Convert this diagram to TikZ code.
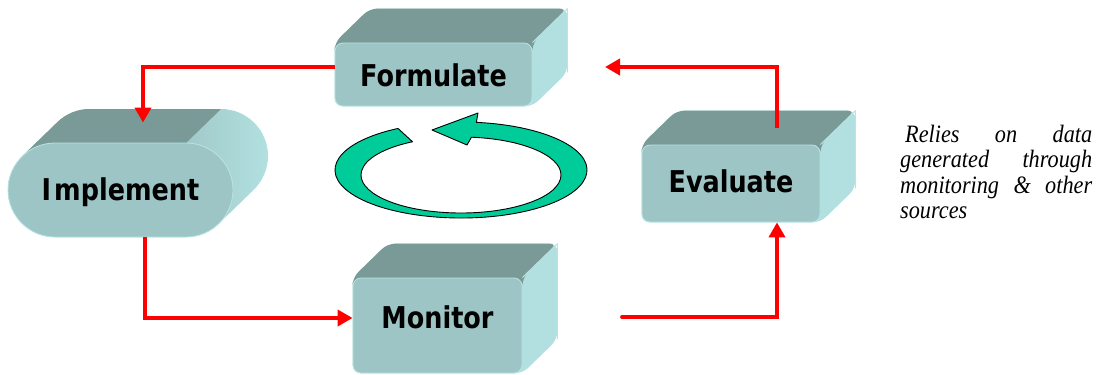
\documentclass[tikz,border=0pt]{standalone}
\usepackage{fontspec}
\usetikzlibrary{arrows.meta,backgrounds,calc}
\newfontfamily\boxfont[FakeStretch=0.85]{DejaVu Sans}
\newfontfamily\notefont[FakeStretch=0.89]{Liberation Serif}
\definecolor{facefront}{RGB}{157,197,197}
\definecolor{facetop}{RGB}{122,154,152}
\definecolor{faceside}{RGB}{178,224,224}
\definecolor{facerim}{RGB}{184,228,228}
\definecolor{flowred}{RGB}{255,0,0}
\definecolor{cyclegreen}{RGB}{0,204,153}

\tikzset{
  front/.style={fill=facefront, draw=facerim, line width=0.8pt, rounded corners=8pt,
    inner sep=0pt, text depth=0pt,
    font=\boxfont\bfseries\fontsize{30pt}{30pt}\selectfont},
  flow/.style={draw=flowred, line width=3.8pt, -{Triangle[length=15pt,width=16pt]}},
  cycle arrow/.style={fill=cyclegreen, draw=black, line width=0.9pt, line join=round},
  note/.style={anchor=north west, text width=192pt, inner sep=0pt, align=justify,
    font=\notefont\itshape\fontsize{25pt}{25.3pt}\selectfont}
}

% extruded box behind a front-face node: side hull, then the top face
\newcommand\prismbody[1]{%
  \fill[faceside, rounded corners=8pt] (#1.south west) -- (#1.north west)
    -- ($(#1.north west)+(35,-34)$) -- ($(#1.north east)+(35,-34)$)
    -- ($(#1.south east)+(35,-34)$) -- (#1.south east) -- cycle;
  \fill[facetop, rounded corners=8pt] ($(#1.north west)+(0,12)$) -- (#1.north west)
    -- ($(#1.north west)+(35,-34)$) -- ($(#1.north east)+(35,-34)$)
    -- (#1.north east) -- ($(#1.north east)+(0,12)$) -- cycle;
  \draw[facerim, line width=1pt, line join=round] (#1.north east)
    -- ($(#1.north east)+(35,-34)$) -- ($(#1.south east)+(35,-34)$);
}

\begin{document}
\begin{tikzpicture}[x=1pt, y=-1pt]
\useasboundingbox (0,0) rectangle (1104,375);

% front faces
\node[front, minimum width=197pt, minimum height=63pt, text height=23pt] (formulate) at (433.5,74.5) {Formulate};
\node[front, rounded corners=47pt, minimum width=225pt, minimum height=94pt, text height=20pt] (implement) at (120.5,190) {I\kern3pt mplement};
\node[front, minimum width=178pt, minimum height=77pt, text height=17pt] (evaluate) at (731,183.5) {Evaluate};
\node[front, minimum width=169pt, minimum height=95pt, text height=5pt] (monitor) at (437.5,325.5) {Monitor};

\begin{scope}[on background layer]
  \prismbody{formulate}
  \prismbody{evaluate}
  \prismbody{monitor}
  % rounded slab behind the Implement face
  \shade[left color=facetop, right color=faceside]
    ($(55,190)+(225.8:47)$) -- ($(90,156)+(225.8:47)$)
    arc[start angle=225.8, end angle=270, radius=47] -- (221,109)
    arc[start angle=270, end angle=405.8, radius=47]
    -- ($(186,190)+(45.8:47)$)
    arc[start angle=45.8, end angle=90, radius=47] -- (55,237)
    arc[start angle=90, end angle=225.8, radius=47] -- cycle;
  \fill[facetop]
    ($(55,190)+(225.8:47)$) arc[start angle=225.8, end angle=270, radius=47]
    -- (186,143) -- (221,109) -- (90,109)
    arc[start angle=270, end angle=225.8, radius=47] -- cycle;
\end{scope}

% loose ends of the connectors
\coordinate (impl-in) at ([xshift=22.5pt, yshift=20pt]implement.north);
\coordinate (mon-exit) at (622,317);
\coordinate (form-in) at (605,67);

\draw[flow] ([yshift=7.5pt]formulate.west) -| (impl-in);
\draw[flow] ([xshift=24.5pt]implement.south) |- ([yshift=7.5pt]monitor.west);
\draw[flow, line cap=round] (mon-exit) -| ([xshift=46pt]evaluate.south);
\draw[flow] ([xshift=46pt, yshift=17pt]evaluate.north) |- (form-in);

% circular arrow in the middle
\coordinate (ring-o) at (461,170);
\coordinate (ring-i) at (461,175);
\filldraw[cycle arrow]
  ($(ring-o)+(-120:126 and 48)$)
  arc[start angle=-120, end angle=-443, x radius=126, y radius=48]
  -- (478,113) -- (432,130) -- (467,145)
  -- ($(ring-i)+(-84:100 and 38)$)
  arc[start angle=-444, end angle=-119, x radius=100, y radius=38] -- cycle;

\node[note] (remark) at (900,125) {\hspace*{5pt}Relies on data\linebreak generated through\linebreak monitoring \& other\linebreak sources};
\end{tikzpicture}
\end{document}
